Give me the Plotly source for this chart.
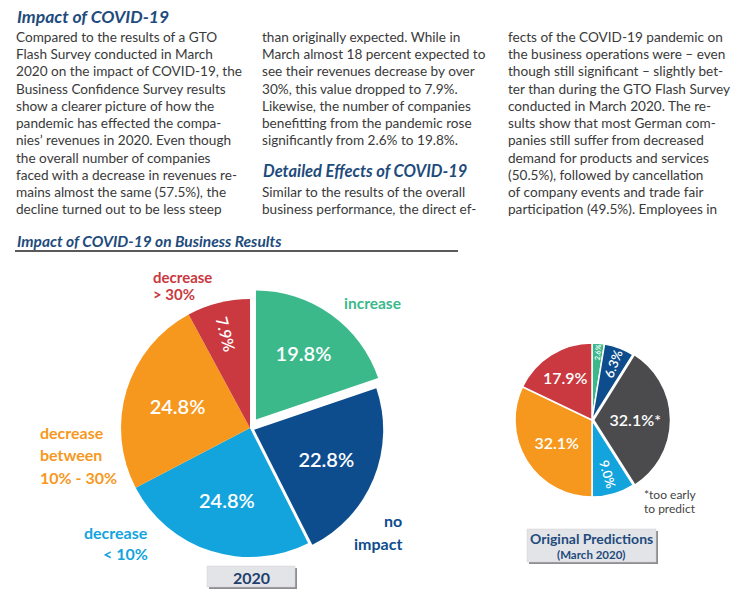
import plotly.graph_objects as go

# ---------------- data ----------------
left_labels = ["increase", "no impact", "decrease < 10%", "decrease between 10% - 30%", "decrease > 30%"]
left_values = [19.8, 22.8, 24.8, 24.8, 7.9]

right_labels = ["increase", "no impact", "too early to predict", "decrease < 10%",
                "decrease between 10% - 30%", "decrease > 30%"]
right_values = [2.6, 6.3, 32.1, 9.0, 32.1, 17.9]

colors = {
    "increase": "#3cb98b",
    "no impact": "#0d4d8d",
    "too early to predict": "#4b4b4d",
    "decrease < 10%": "#13a4dd",
    "decrease between 10% - 30%": "#f7981e",
    "decrease > 30%": "#c9393f",
}
left_pull = {"increase": 0.08, "no impact": 0.035}
right_pull = {"too early to predict": 0.02}

col1 = ["Compared to the results of a GTO",
        "Flash Survey conducted in March",
        "2020 on the impact of COVID-19, the",
        "Business Confidence Survey results",
        "show a clearer picture of how the",
        "pandemic has effected the compa-",
        "nies’ revenues in 2020. Even though",
        "the overall number of companies",
        "faced with a decrease in revenues re-",
        "mains almost the same (57.5%), the",
        "decline turned out to be less steep"]
col2a = ["than originally expected. While in",
         "March almost 18 percent expected to",
         "see their revenues decrease by over",
         "30%, this value dropped to 7.9%.",
         "Likewise, the number of companies",
         "benefitting from the pandemic rose",
         "significantly from 2.6% to 19.8%."]
col2b = ["Similar to the results of the overall",
         "business performance, the direct ef-"]
col3 = ["fects of the COVID-19 pandemic on",
        "the business operations were – even",
        "though still significant – slightly bet-",
        "ter than during the GTO Flash Survey",
        "conducted in March 2020. The re-",
        "sults show that most German com-",
        "panies still suffer from decreased",
        "demand for products and services",
        "(50.5%), followed by cancellation",
        "of company events and trade fair",
        "participation (49.5%). Employees in"]

# ---------------- helpers ----------------
W, H = 751, 600
FONT = "Lato"
HEAD = "#1e4b7c"
BODY = "#3a3a3a"


def fx(x):
    return x / W


def fy(y):
    return 1 - y / H


def fmt(v):
    return f"{v:.1f}%"


annotations = []
shapes = []


def txt(x, y, s, size, color, anchor="left", bold=False, italic=False, yanchor="middle"):
    if bold:
        s = f"<b>{s}</b>"
    if italic:
        s = f"<i>{s}</i>"
    annotations.append(dict(x=fx(x), y=fy(y), xref="paper", yref="paper", text=s,
                            showarrow=False, xanchor=anchor, yanchor=yanchor,
                            font=dict(family=FONT, size=size, color=color)))


LS = 17.25
BODY_SIZE = 13.6
# column texts
txt(15, 17, "Impact of COVID-19", 17.5, HEAD, bold=True, italic=True)
for i, s in enumerate(col1):
    txt(14, 37 + i * LS, s, BODY_SIZE, BODY)
for i, s in enumerate(col2a):
    txt(260, 37 + i * LS, s, BODY_SIZE, BODY)
txt(261, 171, "Detailed Effects of COVID-19", 16.5, HEAD, bold=True, italic=True)
for i, s in enumerate(col2b):
    txt(260, 192 + i * LS, s, BODY_SIZE, BODY)
for i, s in enumerate(col3):
    txt(506, 37 + i * LS, s, BODY_SIZE, BODY)

# section header
txt(15, 241, "Impact of COVID-19 on Business Results", 15.5, HEAD, bold=True, italic=True)
shapes.append(dict(type="line", xref="paper", yref="paper", x0=fx(15), x1=fx(458),
                   y0=fy(251), y1=fy(251), line=dict(color="#222222", width=1.5)))

# ---------------- pies ----------------
def pie_traces(labels, values, pulls, cx, cy, r, line_w, size_big, size_small):
    maxp = max(pulls.get(l, 0) for l in labels)
    half = r * (1 + maxp)
    dom = dict(x=[fx(cx - half), fx(cx + half)], y=[fy(cy + half), fy(cy - half)])
    pull = [pulls.get(l, 0) for l in labels]
    cols = [colors[l] for l in labels]
    big = [fmt(v) + ("*" if l == "too early to predict" else "") if v >= 10 else ""
           for l, v in zip(labels, values)]
    small = [fmt(v) if v < 10 else "" for v in values]
    t1 = go.Pie(labels=labels, values=values, sort=False, direction="clockwise",
                rotation=0, pull=pull, domain=dom, text=big, textinfo="text",
                textposition="inside", insidetextorientation="horizontal",
                marker=dict(colors=cols, line=dict(color="white", width=line_w)),
                textfont=dict(family=FONT, size=size_big, color="white", weight=600),
                showlegend=False, hoverinfo="label+value")
    t2 = go.Pie(labels=labels, values=values, sort=False, direction="clockwise",
                rotation=0, pull=pull, domain=dom, text=small, textinfo="text",
                textposition="inside", insidetextorientation="radial",
                marker=dict(colors=["rgba(0,0,0,0)"] * len(labels),
                            line=dict(color="rgba(0,0,0,0)", width=0)),
                textfont=dict(family=FONT, size=size_small, color="white", weight=600),
                showlegend=False, hoverinfo="skip")
    return [t1, t2]


traces = []
traces += pie_traces(left_labels, left_values, left_pull, 250, 428, 129, 0, 20, 16)
traces += pie_traces(right_labels, right_values, right_pull, 592, 420, 77, 1.5, 16, 13)

fig = go.Figure(traces)

# outside labels, left pie
txt(151, 277, "decrease", 15, colors["decrease > 30%"], bold=True)
txt(151, 294, "&gt; 30%", 15, colors["decrease > 30%"], bold=True)
txt(342, 303, "increase", 15.5, colors["increase"], bold=True)
for i, s in enumerate(["decrease", "between", "10% - 30%"]):
    txt(38, 432 + i * 22.5, s, 16, colors["decrease between 10% - 30%"], bold=True)
txt(150, 532, "decrease", 16, colors["decrease < 10%"], anchor="right", bold=True)
txt(150, 553, "&lt; 10%", 16, colors["decrease < 10%"], anchor="right", bold=True)
txt(404, 520, "no", 16, colors["no impact"], anchor="right", bold=True)
txt(404, 543, "impact", 16, colors["no impact"], anchor="right", bold=True)

# footnote, right pie
txt(642, 494, "*too early", 12, "#444444")
txt(642, 508, "to predict", 12, "#444444")

# caption boxes
def box(x0, y0, x1, y1):
    shapes.append(dict(type="rect", xref="paper", yref="paper", x0=fx(x0 + 2), x1=fx(x1 + 2),
                       y0=fy(y1 + 2), y1=fy(y0 + 2), fillcolor="#8e8e92", line=dict(width=0)))
    shapes.append(dict(type="rect", xref="paper", yref="paper", x0=fx(x0), x1=fx(x1),
                       y0=fy(y1), y1=fy(y0), fillcolor="#e3e4e8",
                       line=dict(color="#d0d0d4", width=0.5)))


box(207, 566, 295, 587)
txt(251, 577, "2020", 16, "#1f3f6e", anchor="center", bold=True)
box(527, 529, 656, 562)
txt(591, 538, "Original Predictions", 14, HEAD, anchor="center", bold=True)
txt(591, 554, "(March 2020)", 11.5, HEAD, anchor="center", bold=True)

fig.update_layout(width=W, height=H, margin=dict(l=0, r=0, t=0, b=0),
                  paper_bgcolor="white", plot_bgcolor="white",
                  annotations=annotations, shapes=shapes, showlegend=False)
fig.write_html("out.html")
